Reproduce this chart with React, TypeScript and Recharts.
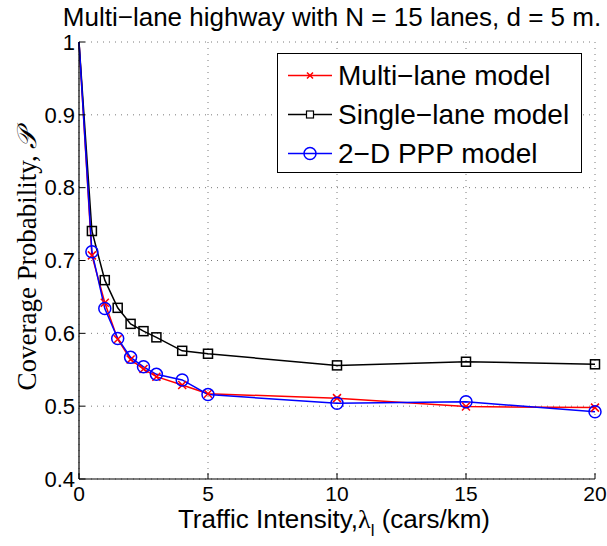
import { LineChart, Line, XAxis, YAxis, CartesianGrid, Legend } from 'recharts';

// traffic intensity (cars/km)
const lambda = [0, 0.5, 1, 1.5, 2, 2.5, 3, 4, 5, 10, 15, 20];
const multiLane = [1, 0.707, 0.642, 0.592, 0.564, 0.551, 0.5405, 0.529, 0.517, 0.511, 0.4995, 0.498];
const singleLane = [1, 0.7405, 0.673, 0.635, 0.613, 0.603, 0.5945, 0.576, 0.572, 0.556, 0.561, 0.5575];
const ppp2d = [1, 0.712, 0.634, 0.593, 0.567, 0.554, 0.5437, 0.536, 0.516, 0.504, 0.506, 0.4924];

const xTicks = [0, 5, 10, 15, 20];
const yTicks = [0.4, 0.5, 0.6, 0.7, 0.8, 0.9, 1];

const seriesNames = ['Multi\u2212lane model', 'Single\u2212lane model', '2\u2212D PPP model'];
const title = 'Multi\u2212lane highway with N = 15 lanes, d = 5 m.';

const data = lambda.map((x, i) => ({
  x,
  multi: multiLane[i],
  single: singleLane[i],
  ppp: ppp2d[i],
}));

const SANS = '"Liberation Sans", Arial, sans-serif';
const SERIF = '"Liberation Serif", "DejaVu Serif", serif';

// the curves start at (0, 1) but the markers start at the first nonzero intensity
const CrossDot = (props: any) => {
  const { cx, cy, index } = props;
  if (cx == null || cy == null || index === 0) return <g key={`c-${index}`} />;
  const s = 4;
  return (
    <path
      key={`c-${index}`}
      d={`M${cx - s},${cy - s}L${cx + s},${cy + s}M${cx - s},${cy + s}L${cx + s},${cy - s}`}
      stroke="#ff0000"
      strokeWidth={1.5}
      fill="none"
    />
  );
};

const SquareDot = (props: any) => {
  const { cx, cy, index } = props;
  if (cx == null || cy == null || index === 0) return <g key={`s-${index}`} />;
  const s = 4.5;
  return (
    <rect
      key={`s-${index}`}
      x={cx - s}
      y={cy - s}
      width={2 * s}
      height={2 * s}
      stroke="#000"
      strokeWidth={1.5}
      fill="none"
    />
  );
};

const CircleDot = (props: any) => {
  const { cx, cy, index } = props;
  if (cx == null || cy == null || index === 0) return <g key={`o-${index}`} />;
  return <circle key={`o-${index}`} cx={cx} cy={cy} r={6} fill="none" stroke="#0000ff" strokeWidth={1.5} />;
};

const legendIcons = [
  (
    <g>
      <line x1={10} y1={19.5} x2={54} y2={19.5} stroke="#ff0000" strokeWidth={1.5} />
      <path d="M29,16.5L35,22.5M29,22.5L35,16.5" stroke="#ff0000" strokeWidth={1.5} />
    </g>
  ),
  (
    <g>
      <line x1={10} y1={19.5} x2={54} y2={19.5} stroke="#000" strokeWidth={1.5} />
      <rect x={28.5} y={16} width={7} height={7} fill="#fff" stroke="#000" strokeWidth={1.2} />
    </g>
  ),
  (
    <g>
      <line x1={10} y1={19.5} x2={54} y2={19.5} stroke="#0000ff" strokeWidth={1.5} />
      <circle cx={32} cy={19.5} r={6} fill="none" stroke="#0000ff" strokeWidth={1.5} />
    </g>
  ),
];

const LegendBox = () => (
  <div
    style={{
      width: 305,
      height: 120,
      boxSizing: 'border-box',
      border: '1px solid #000',
      background: '#fff',
      paddingTop: 2,
      fontFamily: SANS,
      fontSize: 28,
      color: '#000',
    }}
  >
    {seriesNames.map((name, i) => (
      <div key={name} style={{ display: 'flex', alignItems: 'center', height: 39, lineHeight: '39px' }}>
        <svg width={60} height={39} style={{ flex: 'none' }}>
          {legendIcons[i]}
        </svg>
        <span style={{ whiteSpace: 'nowrap' }}>{name}</span>
      </div>
    ))}
  </div>
);

const XLabel = () => (
  <text x={334} y={528} textAnchor="middle" fontFamily={SANS} fontSize={26} fill="#000">
    <tspan>Traffic Intensity,</tspan>
    <tspan fontFamily={SERIF}>λ</tspan>
    <tspan fontSize={17} dy={8}>l</tspan>
    <tspan dy={-8}> (cars/km)</tspan>
  </text>
);

const YLabel = () => {
  const cx = 27;
  const cy = 260;
  return (
    <text
      x={cx}
      y={cy}
      transform={`rotate(-90, ${cx}, ${cy})`}
      textAnchor="middle"
      dominantBaseline="central"
      fontFamily={SERIF}
      fontSize={27}
      fill="#000"
    >
      Coverage Probability, <tspan fontStyle="italic">{'\u{1D4AB}'}</tspan>
    </text>
  );
};

export default function App() {
  return (
    <div style={{ position: 'absolute', left: 0, top: 0, width: 607, height: 546, background: '#fff' }}>
      <div
        style={{
          position: 'absolute',
          left: 59,
          top: 6,
          width: 546,
          textAlign: 'center',
          fontFamily: SANS,
          fontSize: 26,
          lineHeight: '22px',
          whiteSpace: 'nowrap',
          color: '#000',
        }}
      >
        {title}
      </div>
      <LineChart
        width={607}
        height={546}
        data={data}
        margin={{ top: 42, right: 12, bottom: 0, left: 0 }}
      >
        <CartesianGrid stroke="#7a7a7a" strokeDasharray="1 5" strokeWidth={1} />
        <XAxis
          dataKey="x"
          type="number"
          domain={[0, 20]}
          ticks={xTicks}
          interval={0}
          height={67}
          tickSize={-6}
          tickMargin={13}
          axisLine={{ stroke: '#000', strokeWidth: 1.2 }}
          tickLine={{ stroke: '#000' }}
          tick={{ fill: '#000', fontSize: 21, fontFamily: SANS }}
          label={<XLabel />}
        />
        <XAxis
          xAxisId="top"
          orientation="top"
          dataKey="x"
          type="number"
          domain={[0, 20]}
          ticks={xTicks}
          height={0}
          tickSize={-6}
          tickFormatter={() => ''}
          axisLine={{ stroke: '#000', strokeWidth: 1.2 }}
          tickLine={{ stroke: '#000' }}
        />
        <YAxis
          type="number"
          domain={[0.4, 1]}
          ticks={yTicks}
          interval={0}
          width={79}
          tickSize={-6}
          tickMargin={10}
          axisLine={{ stroke: '#000', strokeWidth: 1.2 }}
          tickLine={{ stroke: '#000' }}
          tick={{ fill: '#000', fontSize: 22, fontFamily: SANS }}
          label={<YLabel />}
        />
        <YAxis
          yAxisId="right"
          orientation="right"
          type="number"
          domain={[0.4, 1]}
          ticks={yTicks}
          width={0}
          tickSize={-6}
          tickFormatter={() => ''}
          axisLine={{ stroke: '#000', strokeWidth: 1.2 }}
          tickLine={{ stroke: '#000' }}
        />
        <Legend
          layout="vertical"
          align="center"
          verticalAlign="middle"
          wrapperStyle={{ position: 'absolute', left: 277, top: 53, width: 305, height: 120 }}
          content={() => <LegendBox />}
        />
        <Line
          type="linear"
          dataKey="multi"
          name={seriesNames[0]}
          stroke="#ff0000"
          strokeWidth={1.5}
          dot={CrossDot}
          activeDot={false}
          isAnimationActive={false}
        />
        <Line
          type="linear"
          dataKey="single"
          name={seriesNames[1]}
          stroke="#000"
          strokeWidth={1.5}
          dot={SquareDot}
          activeDot={false}
          isAnimationActive={false}
        />
        <Line
          type="linear"
          dataKey="ppp"
          name={seriesNames[2]}
          stroke="#0000ff"
          strokeWidth={1.5}
          dot={CircleDot}
          activeDot={false}
          isAnimationActive={false}
        />
      </LineChart>
    </div>
  );
}
